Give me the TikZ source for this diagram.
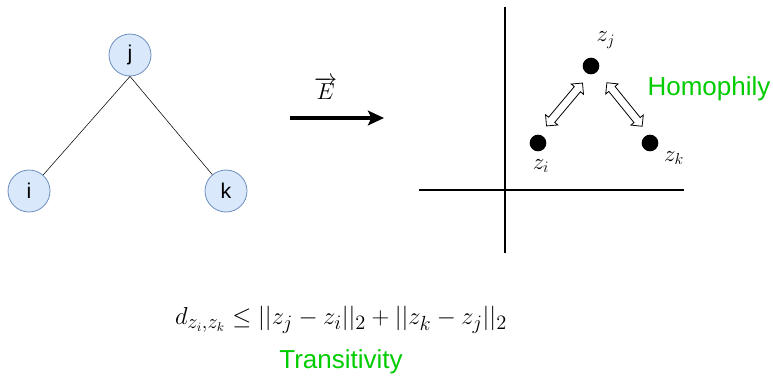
\documentclass[tikz,border=0pt]{standalone}
\usepackage{fontspec}
\setmainfont{Liberation Sans}
\usetikzlibrary{arrows.meta,positioning,shapes.arrows,calc}
\definecolor{vtxfill}{HTML}{DAE8FC}
\definecolor{vtxline}{HTML}{6C8EBF}
\definecolor{hgreen}{RGB}{0,204,0}

\begin{document}
\begin{tikzpicture}[x=0.75pt,y=-0.75pt,
    vtx/.style={circle,draw=vtxline,fill=vtxfill,line width=0.6pt,minimum size=31.5pt,inner sep=0pt,font=\fontsize{16}{19}\selectfont},
    emb/.style={circle,fill=black,minimum size=12.5pt,inner sep=0pt},
    link/.style={double arrow,draw=black,fill=white,line width=0.6pt,inner sep=2.7pt,
      double arrow head extend=3pt,double arrow tip angle=90,minimum height=42pt},
    axis/.style={line width=1.6pt},
    zlbl/.style={font=\fontsize{18}{21}\selectfont},
    lbl/.style={font=\fontsize{19.5}{23}\selectfont,text=hgreen}]
    \useasboundingbox (0,0) rectangle (773,375);
    % graph
    \node[vtx] (j) at (130,55) {j};
    \node[vtx] (i) at (29,191) {i};
    \node[vtx] (k) at (226,191) {k};
    \draw (j.south) -- (i);
    \draw (j.south) -- (k);
    % embedding map
    \coordinate (es) at (290,118);
    \coordinate (ee) at (384,118);
    \draw[line width=2.6pt,-{Stealth[length=12pt,width=11pt,inset=2.5pt]}] (es) -- (ee)
      node[pos=0.38,above=9pt,font=\fontsize{17}{20}\selectfont] (elbl) {$\overrightarrow{E}$};
    % axes
    \coordinate (yt) at (505,7);
    \coordinate (yb) at (505,253);
    \coordinate (xl) at (419,190);
    \coordinate (xr) at (684,190);
    \draw[axis] (yt) -- (yb);
    \draw[axis] (xl) -- (xr);
    % embedded points
    \node[emb] (zj) at (591,66) {};
    \node[emb] (zi) at (538,143) {};
    \node[emb] (zk) at (650,143) {};
    \node[zlbl] (zjl) at (606,40) {$z_j$};
    \node[zlbl] (zil) at (541,166) {$z_i$};
    \node[zlbl] (zkl) at (674,158) {$z_k$};
    \node[link,rotate=50] (aij) at ($(zi)!0.5!(zj)$) {};
    \node[link,rotate=-51] (ajk) at ($(zj)!0.5!(zk)+(4,0)$) {};
    \node[lbl] (homo) at (709,89) {Homophily};
    % bottom
    \node[font=\fontsize{19}{23}\selectfont] (ineq) at (341,320)
      {\scalebox{1.065}{$d_{z_i,z_k} \leq ||z_j - z_i||_2 + ||z_k - z_j||_2$}};
    \node[lbl] (trans) at (341,362) {Transitivity};
\end{tikzpicture}
\end{document}
